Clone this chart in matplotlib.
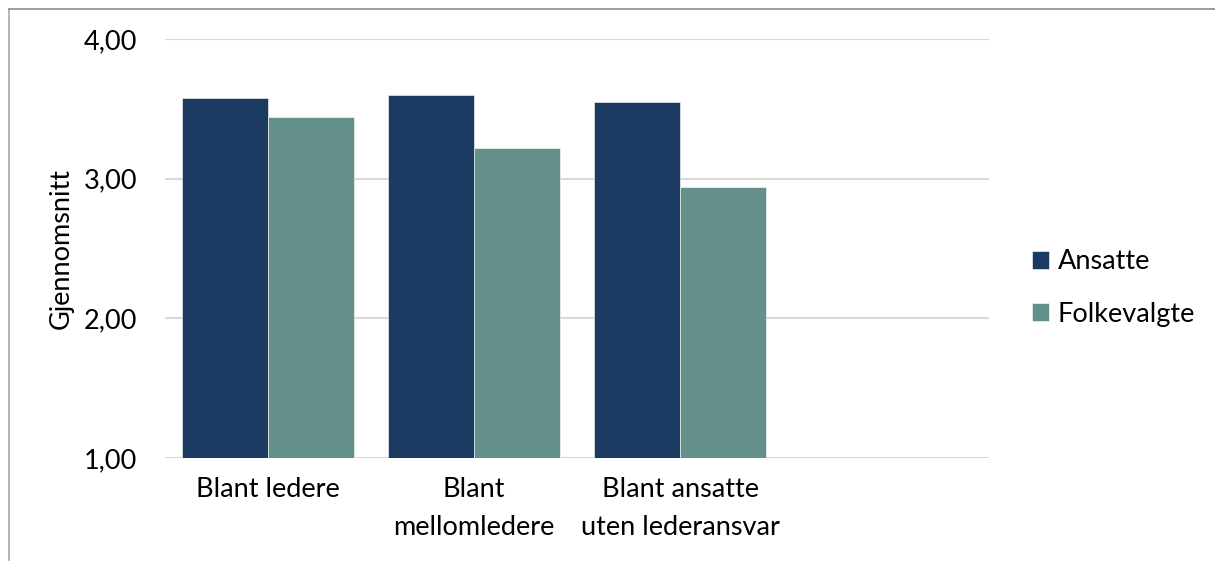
import matplotlib
matplotlib.use("Agg")
import matplotlib.pyplot as plt
import numpy as np
from matplotlib.lines import Line2D

plt.rcParams['font.family'] = ['Lato', 'DejaVu Sans']

categories = ["Blant ledere", "Blant\nmellomledere", "Blant ansatte\nuten lederansvar"]
series_names = ["Ansatte", "Folkevalgte"]
ansatte = [3.58, 3.60, 3.55]
folkevalgte = [3.44, 3.22, 2.94]
y_ticks = [1.0, 2.0, 3.0, 4.0]
y_tick_labels = ["1,00", "2,00", "3,00", "4,00"]
y_label = "Gjennomsnitt"

colors = ["#1A3A61", "#648F8B"]
FS = 19.5

W, H = 1215, 561
fig = plt.figure(figsize=(W / 100, H / 100), dpi=100)
ax = fig.add_axes([165 / W, (H - 458) / H, 824 / W, 419 / H])

x = np.arange(len(categories))
bw = 86 / 206
b1 = ax.bar(x - bw / 2, np.array(ansatte) - 1.0, bw, bottom=1.0, color=colors[0],
            edgecolor="white", linewidth=0.4, label=series_names[0], zorder=3)
b2 = ax.bar(x + bw / 2, np.array(folkevalgte) - 1.0, bw, bottom=1.0, color=colors[1],
            edgecolor="white", linewidth=0.4, label=series_names[1], zorder=3)

ax.set_xlim(-0.5, 3.5)
ax.set_ylim(1.0, 4.0)
ax.set_yticks(y_ticks, y_tick_labels)
ax.set_xticks(x, categories)
for s in ax.spines.values():
    s.set_visible(False)
ax.tick_params(axis="y", length=0, pad=20, labelsize=FS, labelcolor="#000000")
ax.tick_params(axis="x", length=0, pad=14, labelsize=FS, labelcolor="#000000")
for t in ax.get_xticklabels():
    t.set_linespacing(1.65)
ax.yaxis.grid(True, color="#D9D9D9", linewidth=1.5, zorder=0)
ax.set_axisbelow(True)
ax.set_ylabel(y_label, fontsize=FS, color="#000000")
ax.yaxis.set_label_coords(-0.111, 0.5)

leg = fig.legend(handles=[b1, b2], labels=series_names, loc="center left",
                 bbox_to_anchor=(1032 / W, (H - 288) / H), frameon=False,
                 fontsize=FS, handlelength=0.62, handleheight=0.62,
                 handletextpad=0.33, labelspacing=1.0, borderpad=0, borderaxespad=0)

# outer chart frame (partially visible in the reference)
fig.add_artist(Line2D([8.5 / W, 8.5 / W], [0, (H - 8.5) / H], transform=fig.transFigure,
                      color="#A8A8A8", linewidth=1.2))
fig.add_artist(Line2D([8.5 / W, 1], [(H - 8.5) / H, (H - 8.5) / H], transform=fig.transFigure,
                      color="#8C8C8C", linewidth=1.2))

fig.savefig("out.png", dpi=100, facecolor="white")
